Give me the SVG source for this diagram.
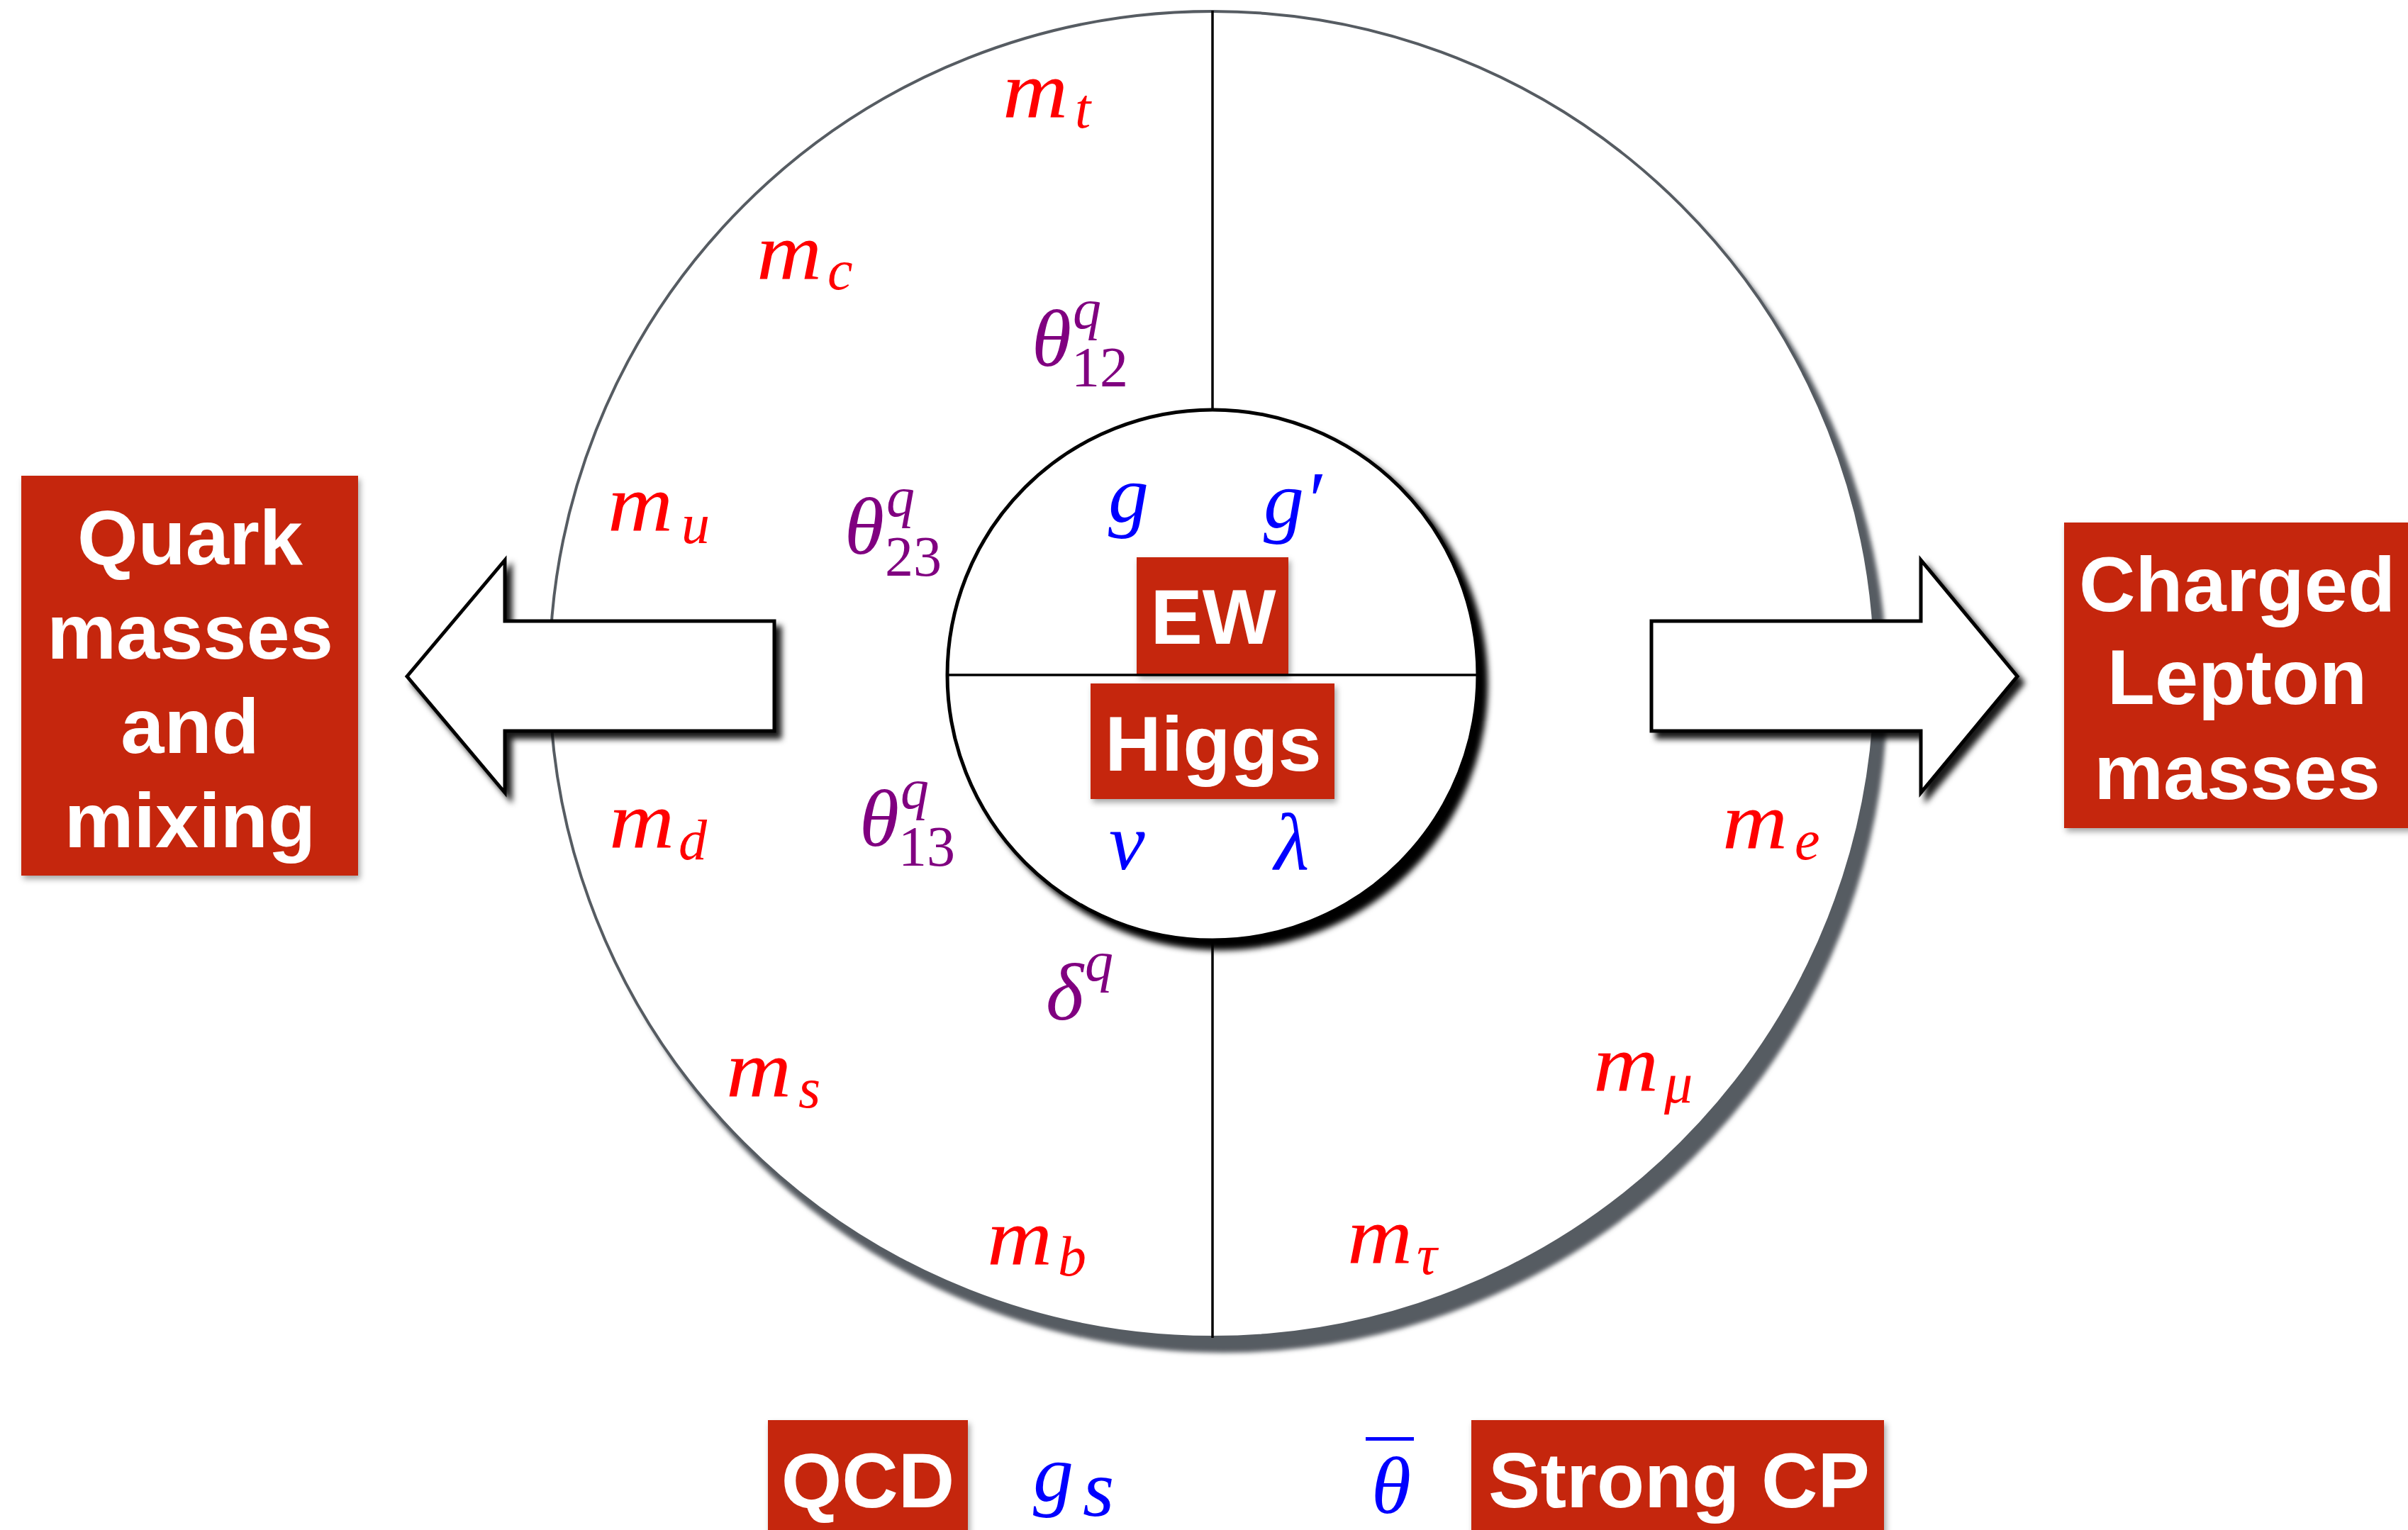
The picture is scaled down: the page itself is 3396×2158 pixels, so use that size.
<svg xmlns="http://www.w3.org/2000/svg" width="3396" height="2158" viewBox="0 0 3396 2158">
<style>
.bg{fill:#ffffff}
.box{fill:#c5260a;filter:url(#shBox)}
.bt{font-family:"Liberation Sans",Arial,Helvetica,sans-serif;font-weight:bold;font-size:110px;fill:#ffffff;text-anchor:middle}
.mi{font-family:"Liberation Serif","Times New Roman",serif;font-style:italic;font-size:114px}
.sb{font-size:80px}
.up{font-style:normal}
.red{fill:#ff0000}
.pur{fill:#800080}
.blu{fill:#0000ff}
.arrow{fill:#ffffff;stroke:#000000;stroke-width:5;stroke-linejoin:miter;filter:url(#shArrow)}
.div{stroke:#000000;stroke-width:3.5;fill:none}
</style>
<defs>
<filter id="shOuter" x="-10%" y="-10%" width="125%" height="125%">
<feDropShadow dx="15" dy="20" stdDeviation="3" flood-color="#565b62" flood-opacity="1"/>
</filter>
<filter id="shInner" x="-10%" y="-10%" width="125%" height="125%">
<feDropShadow dx="12" dy="12" stdDeviation="4" flood-color="#000000" flood-opacity="1"/>
</filter>
<filter id="shArrow" x="-10%" y="-10%" width="125%" height="130%">
<feDropShadow dx="8" dy="9" stdDeviation="4" flood-color="#000000" flood-opacity="0.9"/>
</filter>
<filter id="shBox" x="-10%" y="-10%" width="125%" height="125%">
<feDropShadow dx="3" dy="5" stdDeviation="4" flood-color="#000000" flood-opacity="0.35"/>
</filter>
</defs>
<rect class="bg" x="0" y="0" width="3396" height="2158"/>

<g id="node-outer">
<circle cx="1710" cy="951" r="935" fill="#ffffff" stroke="#565b62" stroke-width="4" filter="url(#shOuter)"/>
<line class="div" x1="1710" y1="15" x2="1710" y2="577"/>
<line class="div" x1="1710" y1="1326" x2="1710" y2="1887"/>
</g>

<g id="node-inner">
<circle cx="1710" cy="952" r="374" fill="#ffffff" stroke="#000000" stroke-width="5" filter="url(#shInner)"/>
</g>

<g id="node-ew">
<rect class="box" x="1603" y="786" width="214" height="165"/>
<text class="bt" x="1711" y="908">EW</text>
</g>
<line class="div" x1="1336" y1="952" x2="2084" y2="952"/>
<g id="node-higgs">
<rect class="box" x="1538" y="964" width="344" height="163"/>
<text class="bt" x="1711" y="1087">Higgs</text>
</g>

<g id="labels-quarks">
<g transform="translate(1414,165)"><text class="mi red" transform="scale(1.12,1)">m</text><text class="mi sb red" x="102" y="15">t</text></g>
<g transform="translate(1067,393)"><text class="mi red" transform="scale(1.12,1)">m</text><text class="mi sb red" x="100" y="15">c</text></g>
<g transform="translate(857,748)"><text class="mi red" transform="scale(1.12,1)">m</text><text class="mi sb red" x="104" y="18">u</text></g>
<g transform="translate(859,1195)"><text class="mi red" transform="scale(1.12,1)">m</text><text class="mi sb red" x="98" y="17">d</text></g>
<g transform="translate(1024,1546)"><text class="mi red" transform="scale(1.12,1)">m</text><text class="mi sb red" x="102" y="16">s</text></g>
<g transform="translate(1392,1783)"><text class="mi red" transform="scale(1.12,1)">m</text><text class="mi sb red" x="100" y="16">b</text></g>
</g>
<g id="labels-leptons">
<g transform="translate(1900,1781)"><text class="mi red" transform="scale(1.12,1)">m</text><text class="mi sb red" x="98" y="16">τ</text></g>
<g transform="translate(2247,1538)"><text class="mi red" transform="scale(1.12,1)">m</text><text class="mi sb red" x="100" y="17">μ</text></g>
<g transform="translate(2429,1196)"><text class="mi red" transform="scale(1.12,1)">m</text><text class="mi sb red" x="102" y="16">e</text></g>
</g>
<g id="labels-mixing">
<text class="mi pur"><tspan x="1455" y="516">θ</tspan><tspan class="sb" x="1513" y="463">q</tspan><tspan class="sb up" x="1511" y="545">12</tspan></text>
<text class="mi pur"><tspan x="1191" y="781">θ</tspan><tspan class="sb" x="1250" y="728">q</tspan><tspan class="sb up" x="1248" y="812">23</tspan></text>
<text class="mi pur"><tspan x="1212" y="1193">θ</tspan><tspan class="sb" x="1270" y="1140">q</tspan><tspan class="sb up" x="1267" y="1221">13</tspan></text>
<text class="mi pur"><tspan x="1475" y="1438">δ</tspan><tspan class="sb" x="1530" y="1383">q</tspan></text>
</g>
<g id="labels-ew">
<text class="mi blu" x="1563" y="736">g</text>
<text class="mi blu" x="1782" y="744">g′</text>
<text class="mi blu" x="1564" y="1226">v</text>
<text class="mi blu" x="1797" y="1226">λ</text>
</g>

<g id="connectors">
<polygon class="arrow" points="574,954 712,790 712,876 1092,876 1092,1031 712,1031 712,1118"/>
<polygon class="arrow" points="2329,876 2709,876 2709,790 2845,954 2709,1118 2709,1031 2329,1031"/>
</g>

<g id="node-quark">
<rect class="box" x="30" y="671" width="475" height="564"/>
<text class="bt"><tspan x="268" y="796">Quark</tspan><tspan x="268" y="929">masses</tspan><tspan x="268" y="1062">and</tspan><tspan x="268" y="1195">mixing</tspan></text>
</g>

<g id="node-charged">
<rect class="box" x="2911" y="737" width="500" height="431"/>
<text class="bt"><tspan x="3155" y="862">Charged</tspan><tspan x="3155" y="993">Lepton</tspan><tspan x="3155" y="1127">masses</tspan></text>
</g>

<g id="node-qcd">
<rect class="box" x="1083" y="2003" width="282" height="170"/>
<text class="bt" x="1224" y="2126">QCD</text>
</g>
<g id="label-gs">
<text class="mi blu" font-size="130" x="1457" y="2117">g</text>
<text class="mi blu" font-size="90" x="1527" y="2138">s</text>
</g>
<g id="label-thetabar">
<rect x="1926" y="2027" width="68" height="5" fill="#0000ff"/>
<text class="mi blu" font-size="130" x="1934" y="2134">θ</text>
</g>
<g id="node-strongcp">
<rect class="box" x="2075" y="2003" width="582" height="170"/>
<text class="bt" x="2368" y="2126">Strong CP</text>
</g>
</svg>
